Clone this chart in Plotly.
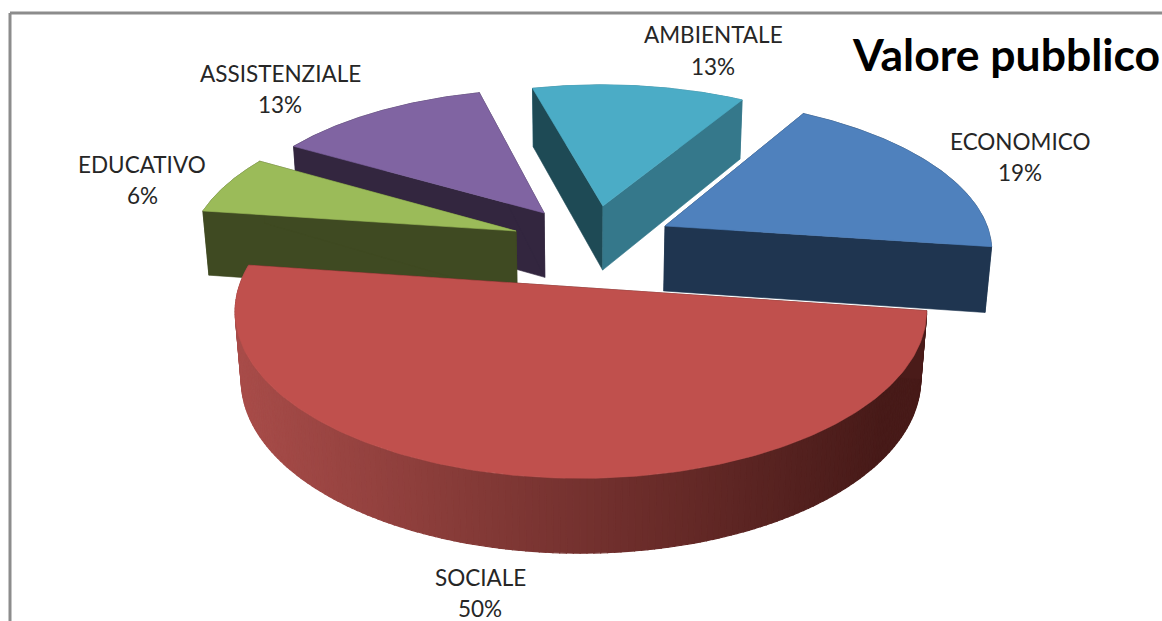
import math
import plotly.graph_objects as go

categories = ["ECONOMICO", "SOCIALE", "EDUCATIVO", "ASSISTENZIALE", "AMBIENTALE"]
shares = [18.75, 50.0, 6.25, 12.5, 12.5]
first_angle = 30.5

top_colors = ["#4F81BD", "#C0504D", "#9BBB59", "#8064A2", "#4BACC6"]
start_face = ["#1F3550", "#4A1B19", "#3F4A22", "#33263F", "#1E4A55"]
end_face = ["#1F3550", "#4A1B19", "#3F4A22", "#33263F", "#35788B"]
side_colors = ["#1F3550", None, "#3F4A22", "#33263F", "#35788B"]
explode_x = [0.241, -0.0175, -0.218, -0.134, 0.05]
explode_y = [0.382, -0.015, 0.348, 0.472, 0.521]
radius = [0.995, 1.0, 0.995, 0.98, 0.97]
label_x = [1020, 480, 142, 280, 713]
name_y = [141, 577, 164, 73, 34]
pct_y = [172, 608, 195, 104, 66]
draw_order = [4, 3, 2, 0, 1]

CX, CY, D0, F, G, H, K = 587.0, 285.0, 7.0, 2390.0, 1140.0, 480.0, 0.12


def project(X, Y, z):
    d = D0 + Y + K * z
    return CX + F * X / d, CY - (G * Y - H * z) / d


def point(i, theta, r, z):
    t = math.radians(theta)
    return project(explode_x[i] + r * math.sin(t), explode_y[i] + r * math.cos(t), z)


def mix(a, b, t):
    t = max(0.0, min(1.0, t))
    ca = [int(a[k:k + 2], 16) for k in (1, 3, 5)]
    cb = [int(b[k:k + 2], 16) for k in (1, 3, 5)]
    return "rgb(%d,%d,%d)" % tuple(round(p + (q - p) * t) for p, q in zip(ca, cb))


fig = go.Figure()


def poly(pts, color, w=0.6):
    xs = [p[0] for p in pts] + [pts[0][0]]
    ys = [p[1] for p in pts] + [pts[0][1]]
    fig.add_trace(go.Scatter(x=xs, y=ys, mode="lines", fill="toself", fillcolor=color,
                             line=dict(color=color, width=w), hoverinfo="skip", showlegend=False))


starts = []
a = first_angle
for s in shares:
    starts.append(a)
    a += s * 3.6

for i in draw_order:
    a0 = starts[i]
    a1 = a0 + shares[i] * 3.6
    r = radius[i]
    thetas = [a0 + (a1 - a0) * n / 180 for n in range(181)]
    if side_colors[i] is None:
        for n in range(180):
            q = [point(i, thetas[n], r, 0), point(i, thetas[n + 1], r, 0),
                 point(i, thetas[n + 1], r, 1), point(i, thetas[n], r, 1)]
            sx = sum(p[0] for p in q) / 4
            poly(q, mix("#A84C49", "#471A18", (sx - 240) / 640), w=1.2)
    else:
        poly([point(i, t, r, 0) for t in thetas] + [point(i, t, r, 1) for t in reversed(thetas)], side_colors[i])
    apex0, apex1 = point(i, 0, 0, 0), point(i, 0, 0, 1)
    poly([apex0, point(i, a0, r, 0), point(i, a0, r, 1), apex1], start_face[i])
    poly([apex0, point(i, a1, r, 0), point(i, a1, r, 1), apex1], end_face[i])
    poly([apex0] + [point(i, t, r, 0) for t in thetas], top_colors[i])

for c, s, x, y0, y1 in zip(categories, shares, label_x, name_y, pct_y):
    for text, y in ((c, y0), (f"{int(s + 0.5)}%", y1)):
        fig.add_annotation(x=x, y=y, text=text, showarrow=False, xanchor="center", yanchor="middle",
                           font=dict(family="Lato", size=22.5, color="#262626"))

fig.add_annotation(x=1006, y=53, text="<b>Valore pubblico</b>", showarrow=False, xanchor="center",
                   yanchor="middle", font=dict(family="Lato", size=44.5, color="#000000"))

fig.add_shape(type="line", x0=10, x1=1162, y0=13, y1=13, line=dict(color="#8C8C8C", width=3))
fig.add_shape(type="line", x0=10, x1=10, y0=13, y1=621, line=dict(color="#8C8C8C", width=3))

fig.update_layout(width=1162, height=621, margin=dict(l=0, r=0, t=0, b=0),
                  paper_bgcolor="white", plot_bgcolor="white", showlegend=False,
                  xaxis=dict(range=[0, 1162], visible=False, fixedrange=True),
                  yaxis=dict(range=[621, 0], visible=False, fixedrange=True))
fig.write_html("out.html", config={"displayModeBar": False},
               post_script="document.body.style.margin='0';document.body.style.overflow='hidden';")
